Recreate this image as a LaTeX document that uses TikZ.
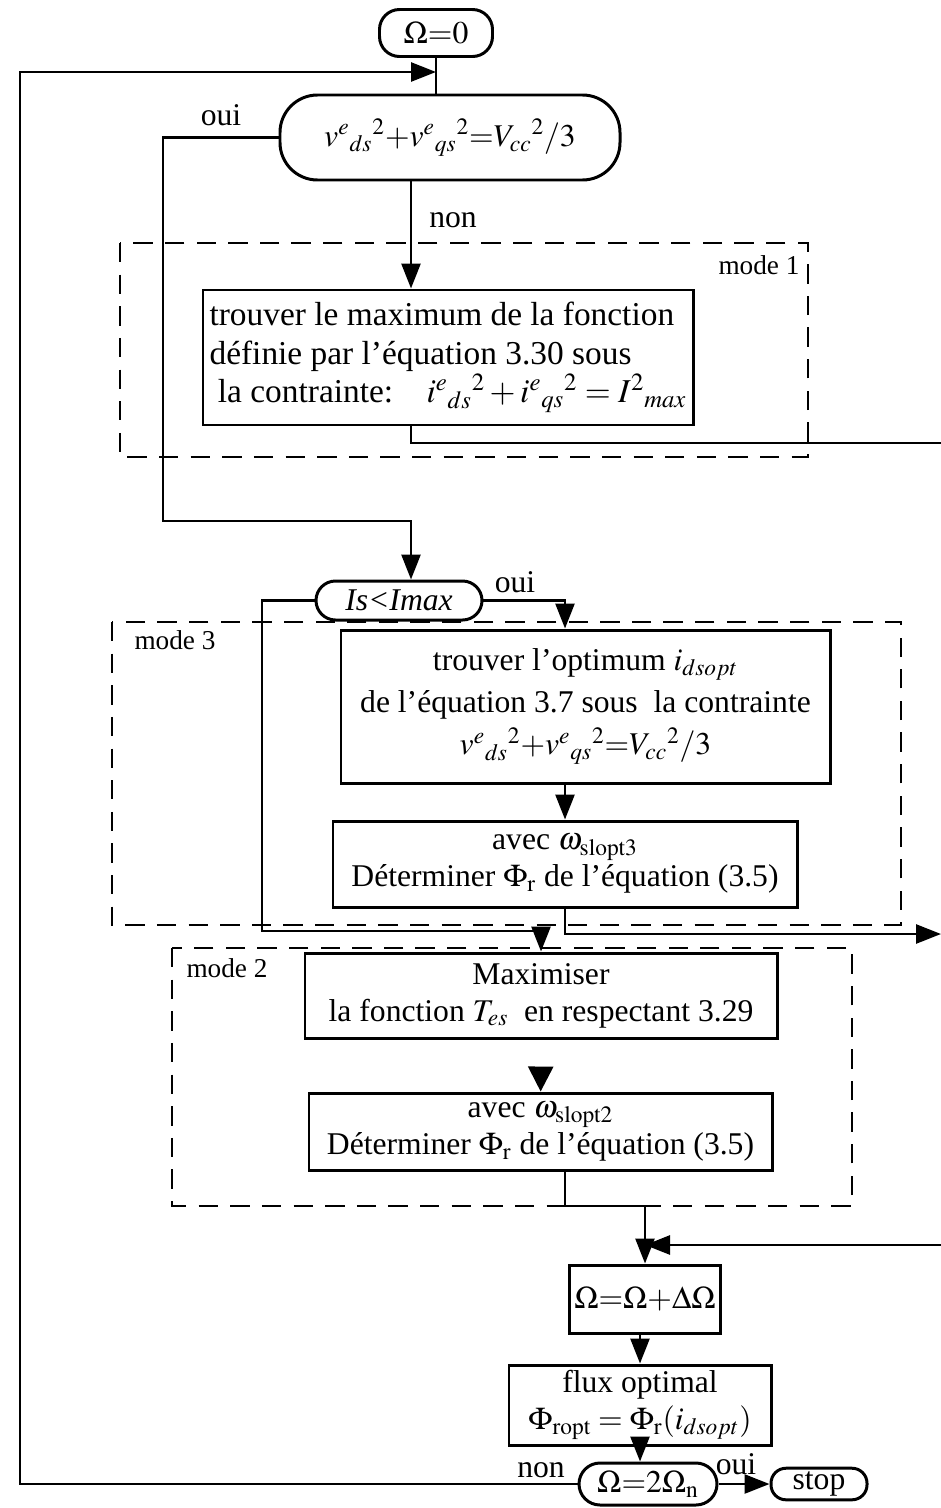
\documentclass[tikz,border=0pt]{standalone}
\usepackage{mathptmx}
\usepackage{fontspec}
\setmainfont{Liberation Serif}
\usetikzlibrary{arrows.meta, calc}

\begin{document}
\begin{tikzpicture}[
  font=\fontsize{18}{21}\selectfont,
  >={Triangle[length=5mm, width=3.8mm]},
  proc/.style={draw, line width=1.7pt, align=center, inner sep=3pt},
  term/.style={draw, line width=1.7pt, rounded corners=#1, align=center, inner sep=2pt},
  term/.default=0.4cm,
  modebox/.style={draw, line width=1.6pt, dash pattern=on 11pt off 7pt},
  arr/.style={line width=1.5pt, ->},
  link/.style={line width=1.5pt},
  lab/.style={inner sep=1pt},
  modelab/.style={inner sep=1pt, font=\fontsize{15.5}{18}\selectfont}
]
\clip (0,0) rectangle (18.82,-30.16);

% columns used by the connectors
\coordinate (xa) at (8.22,0);
\coordinate (xb) at (11.3,0);
\coordinate (entry) at (8.72,-1.44);
\coordinate (entry2) at (12.9,-24.9);
\coordinate (rim) at (18.82,-18.68);

\node[term, minimum width=2.26cm, minimum height=0.94cm] (start) at (8.72,-0.66) {$\Omega{=}0$};
\node[term=0.75cm, minimum width=6.8cm, minimum height=1.7cm] (vtest) at (9.0,-2.75)
  {$v^{e}{}_{ds}{}^{2}{+}v^{e}{}_{qs}{}^{2}{=}V_{cc}{}^{2}/3$};

% mode 1
\draw[modebox] (2.4,-4.86) rectangle (16.16,-9.14);
\node[modelab] (m1) at (15.18,-5.3) {mode 1};
\node[proc, align=left, inner sep=2pt, minimum width=9.8cm, minimum height=2.7cm, font=\fontsize{19}{22}\selectfont] (imax) at (8.96,-7.15)
  {trouver le maximum de la fonction\\définie par l’équation 3.30 sous\\\ la contrainte:\quad $i^{e}{}_{ds}{}^{2}+i^{e}{}_{qs}{}^{2}=I^{2}{}_{max}$};

\node[term=0.39cm, minimum width=3.32cm, minimum height=0.78cm] (istest) at (7.98,-12.01) {\textit{Is<Imax}};

% mode 3
\draw[modebox] (2.24,-12.44) rectangle (18.02,-18.5);
\node[modelab] (m3) at (3.5,-12.8) {mode 3};
\node[proc, minimum width=9.78cm, minimum height=3.06cm] (iopt) at (11.71,-14.13)
  {trouver l’optimum $i_{dsopt}$\\[3pt]de l’équation 3.7 sous\ \ la contrainte\\[3pt]$v^{e}{}_{ds}{}^{2}{+}v^{e}{}_{qs}{}^{2}{=}V_{cc}{}^{2}/3$};
\node[proc, minimum width=9.28cm, minimum height=1.72cm] (phi3) at (11.3,-17.28)
  {avec $\omega_{\mathrm{slopt3}}$\\Déterminer $\Phi_{\mathrm{r}}$ de l’équation (3.5)};

% mode 2
\draw[modebox] (3.44,-18.96) rectangle (17.04,-24.12);
\node[modelab] (m2) at (4.54,-19.36) {mode 2};
\node[proc, minimum width=9.44cm, minimum height=1.7cm] (tmax) at (10.82,-19.91)
  {Maximiser\\la fonction $T_{es}$\ \ en respectant 3.29};
\node[proc, minimum width=9.26cm, minimum height=1.54cm] (phi2) at (10.81,-22.63)
  {avec $\omega_{\mathrm{slopt2}}$\\Déterminer $\Phi_{\mathrm{r}}$ de l’équation (3.5)};

\node[proc, minimum width=3.0cm, minimum height=1.36cm] (incr) at (12.9,-25.98) {$\Omega{=}\Omega{+}\Delta\Omega$};
\node[proc, minimum width=5.24cm, minimum height=1.6cm] (flux) at (12.8,-28.1)
  {flux optimal\\$\Phi_{\mathrm{ropt}}=\Phi_{\mathrm{r}}(i_{dsopt})$};
\node[term=0.42cm, minimum width=2.76cm, minimum height=0.84cm] (wtest) at (12.96,-29.68) {$\Omega{=}2\Omega_{\mathrm{n}}$};
\node[term=0.3cm, minimum width=1.92cm, minimum height=0.6cm] (stop) at (16.38,-29.68) {stop};

% connectors
\draw[link] (start) -- (start |- vtest.north);
\draw[arr] (wtest.west) -| (0.4,-1.44) -- (entry);
\draw[arr] (vtest.south -| xa) -- (imax.north -| xa);
\draw[arr] (vtest.west) -| (3.26,-10.42) -| (istest.north -| xa);
\draw[arr] (imax.south -| xa) |- (19.2,-8.86) |- (entry2);
\draw[arr] (istest.east) -| (iopt.north -| xb);
\draw[arr] (istest.west) -| (5.24,-18.62) -| (tmax.north);
\draw[arr] (iopt.south -| xb) -- (phi3.north);
\draw[arr] (phi3.south) |- (rim);
\draw[arr, >={Triangle[length=5mm, width=5mm]}, shorten <=0.62cm] (tmax) -- (phi2);
\draw[arr] (phi2.south -| xb) |- (12.9,-24.12) -- (incr);
\draw[arr] (incr.south -| flux) -- (flux);
\draw[arr] (flux) -- (flux |- wtest.north);
\draw[arr] (wtest) -- (stop);

\node[lab] (oui1) at (4.42,-2.3) {oui};
\node[lab] (non1) at (9.06,-4.4) {non};
\node[lab] (oui2) at (10.3,-11.64) {oui};
\node[lab] (non2) at (10.82,-29.4) {non};
\node[lab] (oui3) at (14.72,-29.28) {oui};
\end{tikzpicture}
\end{document}
